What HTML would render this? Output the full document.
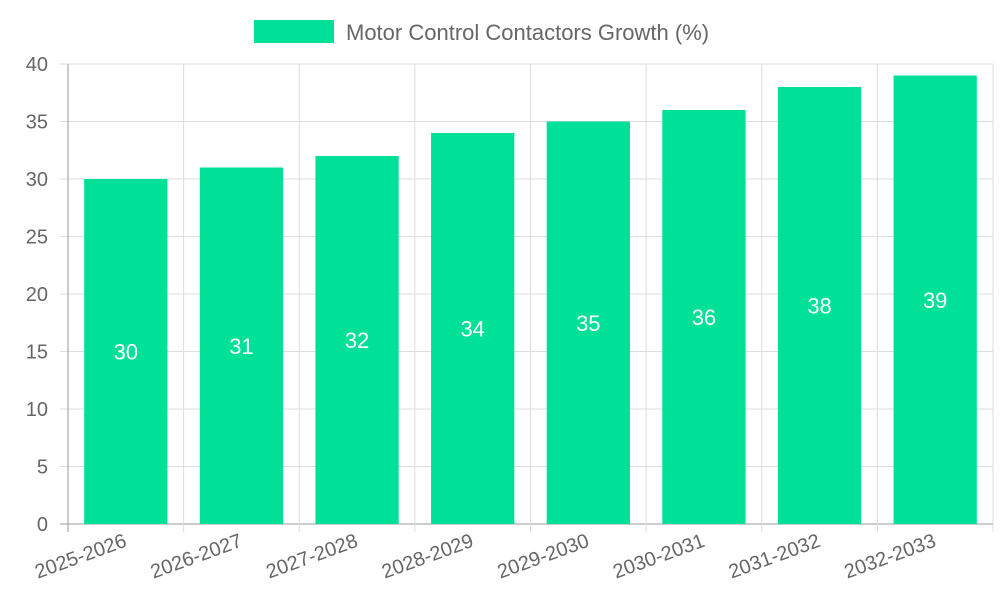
<!DOCTYPE html>
<html><head><meta charset="utf-8"><style>
body{margin:0;background:#fff;}
svg text{font-family:"Liberation Sans",sans-serif;}
</style></head><body>
<svg id="chart" width="1000" height="600">
<g id="legend">
<rect x="254" y="20" width="80" height="23" fill="#00e096"/>
<text x="346" y="40" font-size="22" fill="#666">Motor Control Contactors Growth (%)</text>
</g>
<g id="grid"></g>
<g id="bars"></g>
<g id="labels"></g>
</svg>
<script>
const categories=["2025-2026","2026-2027","2027-2028","2028-2029","2029-2030","2030-2031","2031-2032","2032-2033"];
const values=[30,31,32,34,35,36,38,39];
const yTicks=[0,5,10,15,20,25,30,35,40];
const NS="http://www.w3.org/2000/svg";
const L=68,R=993,T=64,B=524,yMax=40;
const bw=(R-L)/categories.length;
const y=v=>B-(v/yMax)*(B-T);
const xc=i=>L+bw*(i+0.5);
function mk(tag,attrs,parent,txt){const e=document.createElementNS(NS,tag);for(const k in attrs)e.setAttribute(k,attrs[k]);if(txt!==undefined)e.textContent=txt;parent.appendChild(e);return e;}
const g=document.getElementById('grid'),bg=document.getElementById('bars'),lg=document.getElementById('labels');
yTicks.forEach(t=>{
 const l=mk('line',{x1:L-8,x2:R,y1:y(t),y2:y(t),stroke:t===0?'#999':'#ddd','stroke-width':1},g);
 
 
 const tx=mk('text',{x:L-20,y:y(t)+7,'text-anchor':'end','font-size':20,fill:'#666'},g,String(t));
 
 
});
for(let i=0;i<=categories.length;i++){
 const x=L+bw*i;
 const l=mk('line',{x1:x,x2:x,y1:T,y2:B+8,stroke:i===0?'#999':'#ddd','stroke-width':1},g);
 
 
}
categories.forEach((c,i)=>{
 const w=bw*0.72;
 const r=mk('rect',{x:xc(i)-w/2,y:y(values[i]),width:w,height:B-y(values[i]),fill:'#00e096'},bg);
 
 
 const v=mk('text',{x:xc(i),y:(y(values[i])+B)/2+8,'text-anchor':'middle','font-size':22,fill:'#fff'},lg,String(values[i]));
 
 
 const t=mk('text',{x:xc(i)+2,y:B+22,'text-anchor':'end','font-size':20,fill:'#666',transform:`rotate(-20 ${xc(i)+2} ${B+22})`},lg,c);
 
 
});
</script>
</body></html>
